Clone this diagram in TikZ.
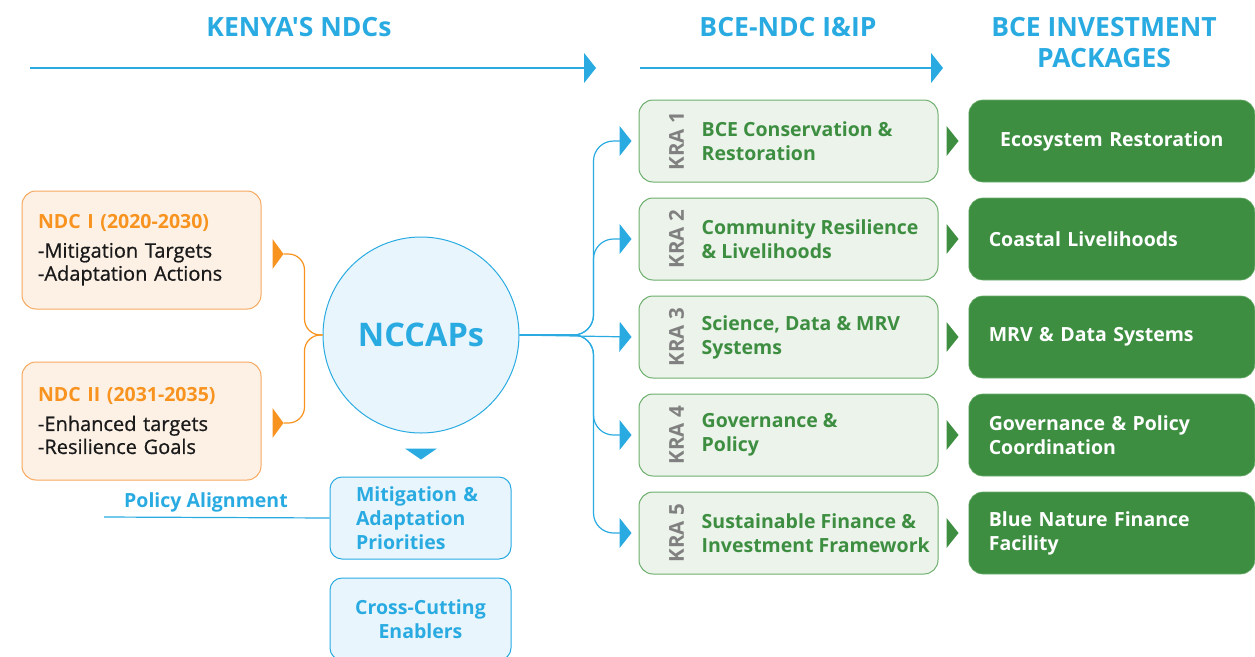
\documentclass[tikz,border=0pt]{standalone}
\usepackage{fontspec}
\setmainfont{Open Sans}[Ligatures=TeXOff]
\newfontfamily\ndcbody{Open Sans}[Ligatures=TeXOff, FakeBold=0.8]
\usetikzlibrary{positioning, calc, arrows.meta}

\definecolor{ndcblue}{HTML}{29ABE2}
\definecolor{ndcbluefill}{HTML}{E8F5FC}
\definecolor{ndcorange}{HTML}{F7931E}
\definecolor{ndcorangeline}{HTML}{F6A85E}
\definecolor{ndcorangefill}{HTML}{FDF1E6}
\definecolor{kragreen}{HTML}{3D8E41}
\definecolor{kragreenline}{HTML}{6DAF6D}
\definecolor{kragreenfill}{HTML}{EBF3EA}
\definecolor{kragray}{HTML}{808080}
\definecolor{ndctext}{HTML}{1A1A1A}

\begin{document}
\begin{tikzpicture}[x=1pt, y=1pt,
    every node/.style={font=\fontsize{19.5}{24}\selectfont\bfseries},
    heading/.style={text=ndcblue, align=center, font=\fontsize{26.5}{31}\selectfont\bfseries},
    ndcbox/.style={draw=ndcorangeline, fill=ndcorangefill, line width=1pt, rounded corners=14pt,
      minimum width=239pt, minimum height=118pt, text width=207pt, inner xsep=16pt,
      align=left, text=ndctext, font=\fontsize{20}{23}\selectfont},
    hub/.style={circle, draw=ndcblue, fill=ndcbluefill, line width=1pt, minimum size=196pt,
      text=ndcblue, font=\fontsize{32.5}{36}\selectfont\bfseries},
    bluebox/.style={draw=ndcblue, fill=ndcbluefill, line width=1pt, rounded corners=12pt,
      minimum width=181pt, minimum height=82pt, text=ndcblue},
    krabox/.style={draw=kragreenline, fill=kragreenfill, line width=1pt, rounded corners=14pt,
      minimum width=299pt, minimum height=82pt},
    kratag/.style={rotate=90, text=kragray, font=\fontsize{20.5}{24}\selectfont\bfseries},
    kratext/.style={anchor=west, align=left, inner sep=0pt, text=kragreen},
    pkgbox/.style={fill=kragreen, draw=kragreenline, line width=0.6pt, rounded corners=14pt,
      minimum height=82pt, text width=246pt, inner xsep=20pt, align=left, text=white},
    blueline/.style={draw=ndcblue, line width=1.2pt},
    orangeline/.style={draw=ndcorange, line width=1.2pt},
    tip/.style={-{Triangle[length=12pt, width=30pt]}}
  ]
  \useasboundingbox (0,0) rectangle (1255,-656);

  % column headings
  \node[heading] (kenya)  at (299,-27)  {KENYA'S NDCs};
  \node[heading] (bcendc) at (788,-27)  {BCE-NDC I\&IP};
  \node[heading] (bcepkg) at (1104,-43) {BCE INVESTMENT\\PACKAGES};
  \coordinate (hl0) at (30,-68);
  \coordinate (hl1) at (596,-68);
  \coordinate (hr0) at (640,-68);
  \coordinate (hr1) at (943,-68);
  \draw[blueline, tip] (hl0) -- (hl1);
  \draw[blueline, tip] (hr0) -- (hr1);

  % NDCs
  \node[ndcbox] (ndc1) at (141.5,-250)
    {{\bfseries\fontsize{19.5}{23}\selectfont\color{ndcorange}NDC I (2020-2030)}\\[6pt]{\ndcbody -Mitigation Targets}\\{\ndcbody -Adaptation Actions}};
  \node[ndcbox] (ndc2) at (141.5,-421)
    {{\bfseries\fontsize{19.5}{23}\selectfont\color{ndcorange}NDC II (2031-2035)}\\[6pt]{\ndcbody -Enhanced targets}\\{\ndcbody -Resilience Goals}};

  % NCCAPs hub
  \node[hub] (nccap) at (421,-335) {NCCAPs};
  \draw[orangeline, rounded corners=16pt] ($(ndc1.east)+(22,-4)$) -| ($(nccap.west)+(-18,0)$) -- (nccap.west);
  \draw[orangeline, rounded corners=16pt] ($(ndc2.east)+(22,-2)$) -| ($(nccap.west)+(-18,0)$) -- (nccap.west);
  \fill[ndcorange] ($(ndc1.east)+(11,11)$) -- ++(11,-15) -- ++(-11,-15) -- cycle;
  \fill[ndcorange] ($(ndc2.east)+(11,13)$) -- ++(11,-15) -- ++(-11,-15) -- cycle;
  \fill[ndcblue] ($(nccap.south)+(-16,-15)$) -- ++(32,0) -- ++(-16,-11) -- cycle;

  \node[bluebox, text width=129pt, inner xsep=26pt, align=left] (prio) at (420.5,-518)
    {Mitigation \&\\Adaptation\\Priorities};
  \node[bluebox, below=18pt of prio, align=center] (cross) {Cross-Cutting\\Enablers};
  \coordinate (polend) at (104,-517);
  \draw[blueline] (prio.west) -- (polend);
  \node[text=ndcblue] (policy) at (206,-502) {Policy Alignment};

  % key result areas
  \node[krabox]                    (kra1) at (788.5,-141) {};
  \node[krabox, below=15pt of kra1] (kra2) {};
  \node[krabox, below=15pt of kra2] (kra3) {};
  \node[krabox, below=15pt of kra3] (kra4) {};
  \node[krabox, below=15pt of kra4] (kra5) {};
  \node[kratag] (tag1) at ($(kra1.west)+(38,0)$) {KRA 1};
  \node[kratag] (tag2) at ($(kra2.west)+(38,0)$) {KRA 2};
  \node[kratag] (tag3) at ($(kra3.west)+(38,0)$) {KRA 3};
  \node[kratag] (tag4) at ($(kra4.west)+(38,0)$) {KRA 4};
  \node[kratag] (tag5) at ($(kra5.west)+(38,0)$) {KRA 5};
  \node[kratext] (txt1) at ($(kra1.west)+(63,0)$) {BCE Conservation \&\\Restoration};
  \node[kratext] (txt2) at ($(kra2.west)+(63,0)$) {Community Resilience\\\& Livelihoods};
  \node[kratext] (txt3) at ($(kra3.west)+(63,0)$) {Science, Data \& MRV\\Systems};
  \node[kratext] (txt4) at ($(kra4.west)+(63,0)$) {Governance \&\\Policy};
  \node[kratext] (txt5) at ($(kra5.west)+(63,0)$) {Sustainable Finance \&\\Investment Framework};

  \draw[blueline, tip, rounded corners=20pt] (nccap.east) -| ($(kra1.west)+(-45,0)$) -- ($(kra1.west)+(-7,0)$);
  \draw[blueline, tip, rounded corners=20pt] (nccap.east) -| ($(kra2.west)+(-45,0)$) -- ($(kra2.west)+(-7,0)$);
  \draw[blueline, tip] (nccap.east) -- ($(kra3.west)+(-7,0)$);
  \draw[blueline, tip, rounded corners=20pt] (nccap.east) -| ($(kra4.west)+(-45,0)$) -- ($(kra4.west)+(-7,0)$);
  \draw[blueline, tip, rounded corners=20pt] (nccap.east) -| ($(kra5.west)+(-45,0)$) -- ($(kra5.west)+(-7,0)$);

  % investment packages
  \node[pkgbox, right=30pt of kra1, align=center] (pkg1) {Ecosystem Restoration};
  \node[pkgbox, right=30pt of kra2] (pkg2) {Coastal Livelihoods};
  \node[pkgbox, right=30pt of kra3] (pkg3) {MRV \& Data Systems};
  \node[pkgbox, right=30pt of kra4] (pkg4) {Governance \& Policy\\Coordination};
  \node[pkgbox, right=30pt of kra5] (pkg5) {Blue Nature Finance\\Facility};
  \fill[kragreen] ($(kra1.east)+(8,15)$) -- ++(12,-15) -- ++(-12,-15) -- cycle;
  \fill[kragreen] ($(kra2.east)+(8,15)$) -- ++(12,-15) -- ++(-12,-15) -- cycle;
  \fill[kragreen] ($(kra3.east)+(8,15)$) -- ++(12,-15) -- ++(-12,-15) -- cycle;
  \fill[kragreen] ($(kra4.east)+(8,15)$) -- ++(12,-15) -- ++(-12,-15) -- cycle;
  \fill[kragreen] ($(kra5.east)+(8,15)$) -- ++(12,-15) -- ++(-12,-15) -- cycle;
\end{tikzpicture}
\end{document}
